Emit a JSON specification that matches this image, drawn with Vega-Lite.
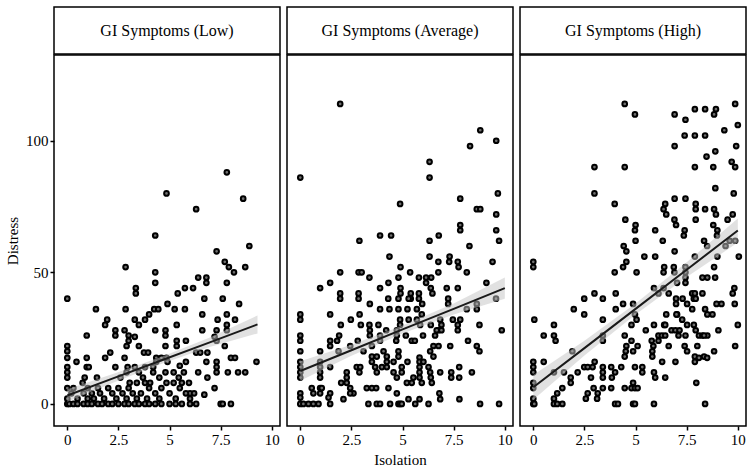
{
"$schema":"https://vega.github.io/schema/vega-lite/v6.json",
"padding":{"left":4,"top":6,"right":2,"bottom":5},
"background":"white",
"config":{
 "view":{"stroke":"black","strokeWidth":1.5},
 "font":"Liberation Serif",
 "axis":{"labelFont":"Liberation Serif","labelFontSize":15,"labelColor":"black","titleFont":"Liberation Serif","titleFontSize":15,"titleFontWeight":"normal","titleColor":"black","tickColor":"black","tickWidth":1.5,"tickSize":4,"domain":false,"grid":false,"labelPadding":2,"titlePadding":5,"labelFlush":false}
},
"datasets":{
"heads":[{"p":"L","label":"GI Symptoms (Low)"},{"p":"A","label":"GI Symptoms (Average)"},{"p":"H","label":"GI Symptoms (High)"}],
"fit":[
{"p":"L","x":0,"fit":3.2,"lo":0.8,"hi":5.6},{"p":"L","x":2.3,"fit":9.9,"lo":8.2,"hi":11.6},{"p":"L","x":4.65,"fit":16.7,"lo":15.4,"hi":18.0},{"p":"L","x":7,"fit":23.5,"lo":21.7,"hi":25.3},{"p":"L","x":9.3,"fit":30.2,"lo":26.8,"hi":33.6},
{"p":"A","x":0,"fit":12.5,"lo":8.8,"hi":16.2},{"p":"A","x":2.5,"fit":20.4,"lo":18.3,"hi":22.5},{"p":"A","x":5,"fit":28.3,"lo":26.8,"hi":29.8},{"p":"A","x":7.5,"fit":36.1,"lo":34.0,"hi":38.2},{"p":"A","x":10,"fit":44.0,"lo":40.0,"hi":48.0},
{"p":"H","x":0,"fit":6.3,"lo":1.6,"hi":11.0},{"p":"H","x":2.5,"fit":21.2,"lo":18.4,"hi":24.0},{"p":"H","x":5,"fit":36.1,"lo":34.0,"hi":38.2},{"p":"H","x":7.5,"fit":51.0,"lo":48.2,"hi":53.8},{"p":"H","x":10,"fit":65.9,"lo":61.3,"hi":70.5}
],
"L":[
{"x":7.8,"y":88},{"x":4.85,"y":80},{"x":8.6,"y":78},{"x":6.3,"y":74},{"x":4.3,"y":64},{"x":7.3,"y":58},{"x":8.9,"y":60},{"x":7.7,"y":54},{"x":7.9,"y":52},{"x":8.15,"y":50},{"x":8.7,"y":52},{"x":2.85,"y":52},{"x":4.3,"y":50},{"x":4.3,"y":46},{"x":6.4,"y":48},{"x":6.8,"y":48},{"x":6.8,"y":46},{"x":7.8,"y":46},{"x":3.35,"y":44},{"x":3.35,"y":42},{"x":5.75,"y":44},{"x":6.15,"y":44},{"x":5.4,"y":42},
{"x":0,"y":40},{"x":1.4,"y":36},{"x":2.85,"y":36},{"x":4.25,"y":36},{"x":4.45,"y":36},{"x":4.9,"y":38},{"x":5.25,"y":36},{"x":5.75,"y":36},{"x":6.7,"y":40},{"x":7.6,"y":40},{"x":8.4,"y":38},{"x":6.6,"y":34},{"x":7.35,"y":32},{"x":7.8,"y":34},{"x":8.2,"y":32},{"x":7.8,"y":30},{"x":7.8,"y":28},{"x":7.3,"y":28},{"x":6.6,"y":28},{"x":5.35,"y":30},{"x":4.8,"y":28},{"x":4.8,"y":26},{"x":4.3,"y":28},{"x":3.8,"y":32},{"x":4.0,"y":34},{"x":3.3,"y":32},{"x":3.5,"y":30},{"x":2.8,"y":28},{"x":3.0,"y":26},{"x":2.35,"y":28},{"x":2.35,"y":26},{"x":1.95,"y":32},{"x":1.85,"y":30},{"x":0.95,"y":26},
{"x":0,"y":22},{"x":0,"y":20},{"x":0,"y":17.5},{"x":0.45,"y":16},{"x":0.95,"y":17.5},{"x":1.85,"y":17.5},{"x":2.1,"y":19.5},{"x":2.8,"y":17.5},{"x":3.3,"y":25.5},{"x":3.0,"y":24},{"x":2.9,"y":22},{"x":3.5,"y":22},{"x":3.75,"y":19.5},{"x":3.95,"y":19.5},{"x":4.8,"y":22},{"x":5.35,"y":22},{"x":5.35,"y":24},{"x":5.8,"y":24},{"x":6.3,"y":19.5},{"x":6.5,"y":19.5},{"x":6.85,"y":19.5},{"x":7.2,"y":25.5},{"x":7.7,"y":22},{"x":7.3,"y":24},{"x":8.0,"y":17.5},{"x":8.2,"y":17.5},{"x":9.25,"y":16},{"x":4.35,"y":17.5},{"x":4.6,"y":17.5},{"x":4.85,"y":17.5},{"x":4.35,"y":16},{"x":4.9,"y":16},{"x":5.5,"y":14.5},{"x":5.8,"y":16},{"x":6.8,"y":16},{"x":7.3,"y":16},{"x":7.3,"y":14},{"x":7.3,"y":12},{"x":7.85,"y":12},{"x":8.35,"y":12},{"x":8.7,"y":12},{"x":6.4,"y":12},{"x":6.85,"y":10},{"x":2.35,"y":14},{"x":0.95,"y":14},{"x":1.05,"y":14},{"x":0,"y":14},{"x":0,"y":12},{"x":0,"y":10},{"x":2.95,"y":14},{"x":3.3,"y":14},{"x":3.8,"y":14},{"x":4.2,"y":14},{"x":3.5,"y":12},{"x":3.7,"y":10},{"x":4.2,"y":12},{"x":4.5,"y":10},{"x":4.8,"y":12},{"x":5.2,"y":12},{"x":5.45,"y":10},{"x":5.7,"y":12},{"x":1.45,"y":10},{"x":0.85,"y":10},{"x":0.75,"y":8},{"x":2.6,"y":10},{"x":2.9,"y":12},{"x":3.05,"y":8},{"x":3.4,"y":8},{"x":3.8,"y":8},{"x":4.05,"y":8},{"x":4.85,"y":8},{"x":5.2,"y":8},{"x":5.6,"y":8},{"x":5.95,"y":8},{"x":6.7,"y":3.5},{"x":7.2,"y":6},
{"x":0,"y":6},{"x":0.3,"y":6},{"x":1.0,"y":6},{"x":1.5,"y":6},{"x":2.0,"y":6},{"x":2.5,"y":6},{"x":3.0,"y":6},{"x":4.0,"y":6},{"x":4.6,"y":6},{"x":5.5,"y":6},{"x":6.0,"y":4},
{"x":0.2,"y":4},{"x":0.8,"y":4},{"x":1.2,"y":4},{"x":1.6,"y":4},{"x":2.2,"y":4},{"x":2.7,"y":4},{"x":3.2,"y":4},{"x":3.6,"y":4},{"x":4.3,"y":4},{"x":5.0,"y":4},{"x":5.8,"y":4},{"x":6.2,"y":4},
{"x":0,"y":2},{"x":0.5,"y":2},{"x":1.0,"y":2},{"x":1.3,"y":2},{"x":1.8,"y":2},{"x":2.4,"y":2},{"x":2.9,"y":2},{"x":3.4,"y":2},{"x":3.9,"y":2},{"x":4.5,"y":2},{"x":5.3,"y":2},{"x":6.0,"y":2},
{"x":0,"y":0},{"x":0.1,"y":0},{"x":0.3,"y":0},{"x":0.5,"y":0},{"x":0.8,"y":0},{"x":1.0,"y":0},{"x":1.2,"y":0},{"x":1.5,"y":0},{"x":1.7,"y":0},{"x":2.0,"y":0},{"x":2.2,"y":0},{"x":2.5,"y":0},{"x":2.8,"y":0},{"x":3.0,"y":0},{"x":3.3,"y":0},{"x":3.5,"y":0},{"x":3.8,"y":0},{"x":4.0,"y":0},{"x":4.3,"y":0},{"x":4.6,"y":0},{"x":5.0,"y":0},{"x":5.3,"y":0},{"x":5.6,"y":0},{"x":6.0,"y":0},{"x":6.3,"y":0},{"x":7.5,"y":0},{"x":7.6,"y":0},{"x":8.0,"y":0}
],
"A":[
{"x":1.95,"y":114},{"x":8.8,"y":104},{"x":9.58,"y":100},{"x":8.3,"y":98},{"x":6.32,"y":92},{"x":6.32,"y":86},{"x":0,"y":86},{"x":9.66,"y":80},{"x":7.82,"y":78},{"x":4.88,"y":76},{"x":8.63,"y":74},{"x":8.8,"y":74},{"x":9.58,"y":72},{"x":7.82,"y":68},{"x":7.82,"y":66},{"x":9.58,"y":66},{"x":9.72,"y":62},{"x":8.27,"y":60},{"x":2.89,"y":62},{"x":3.9,"y":64},{"x":4.44,"y":64},{"x":6.32,"y":62},{"x":6.77,"y":64},{"x":4.36,"y":56},{"x":6.32,"y":56},{"x":7.3,"y":56},
{"x":6.75,"y":54},{"x":7.28,"y":54},{"x":7.7,"y":54},{"x":7.74,"y":52},{"x":9.4,"y":54},
{"x":1.95,"y":50},{"x":2.85,"y":50},{"x":3.0,"y":50},{"x":4.9,"y":52},{"x":5.37,"y":50},{"x":5.8,"y":48},{"x":6.15,"y":48},{"x":6.4,"y":48},{"x":6.15,"y":46},{"x":6.75,"y":50},{"x":8.14,"y":50},{"x":1.46,"y":46},{"x":3.38,"y":48},{"x":4.31,"y":46},{"x":4.8,"y":48},{"x":0.97,"y":44},{"x":1.95,"y":42},{"x":1.95,"y":40},{"x":2.85,"y":42},{"x":2.85,"y":40},{"x":3.9,"y":44},{"x":4.9,"y":44},{"x":4.9,"y":42},{"x":5.4,"y":42},{"x":5.4,"y":40},{"x":5.8,"y":42},{"x":5.8,"y":40},{"x":6.38,"y":44},{"x":6.46,"y":42},{"x":7.16,"y":44},{"x":7.7,"y":44},{"x":9.1,"y":46},{"x":9.57,"y":40},
{"x":3.4,"y":38},{"x":3.9,"y":36},{"x":4.3,"y":40},{"x":4.8,"y":40},{"x":5.3,"y":40},{"x":4.36,"y":36},{"x":4.8,"y":36},{"x":5.24,"y":36},{"x":5.7,"y":36},{"x":5.96,"y":38},{"x":7.23,"y":40},{"x":7.23,"y":38},{"x":8.63,"y":38},{"x":8.63,"y":36},{"x":8.14,"y":36},
{"x":0,"y":34},{"x":0,"y":32},{"x":1.46,"y":34},{"x":2.47,"y":32},{"x":2.9,"y":34},{"x":3.38,"y":30},{"x":3.82,"y":30},{"x":4.88,"y":32},{"x":4.88,"y":30},{"x":5.3,"y":32},{"x":5.7,"y":32},{"x":5.94,"y":34},{"x":5.86,"y":30},{"x":6.38,"y":30},{"x":6.84,"y":32},{"x":6.9,"y":30},{"x":6.75,"y":28},{"x":6.9,"y":28},{"x":7.46,"y":32},{"x":7.82,"y":32},{"x":7.7,"y":30},{"x":7.7,"y":28},{"x":8.76,"y":30},{"x":9.85,"y":28},{"x":1.98,"y":30},{"x":2.96,"y":30},
{"x":0,"y":26},{"x":0,"y":24},{"x":1.46,"y":24},{"x":1.46,"y":22},{"x":1.9,"y":26},{"x":1.8,"y":24},{"x":2.81,"y":24},{"x":3.4,"y":28},{"x":3.4,"y":26},{"x":3.5,"y":22},{"x":3.9,"y":26},{"x":3.9,"y":24},{"x":4.2,"y":28},{"x":4.69,"y":24},{"x":4.72,"y":26},{"x":5.16,"y":26},{"x":4.72,"y":28},{"x":5.45,"y":24},{"x":5.6,"y":24},{"x":6.0,"y":26},{"x":6.67,"y":28},{"x":6.59,"y":26},{"x":7.33,"y":22},{"x":8.2,"y":24},{"x":8.63,"y":22},{"x":8.76,"y":20},
{"x":0,"y":20},{"x":0.97,"y":20},{"x":1.87,"y":20},{"x":2.44,"y":22},{"x":3.09,"y":20},{"x":3.5,"y":18},{"x":3.74,"y":18},{"x":4.07,"y":20},{"x":4.23,"y":18},{"x":4.8,"y":20},{"x":4.8,"y":18},{"x":6.35,"y":20},{"x":6.51,"y":22},{"x":6.76,"y":22},{"x":6.51,"y":18},
{"x":0,"y":16},{"x":0,"y":14},{"x":0,"y":12},{"x":0,"y":10},{"x":0.97,"y":16},{"x":0.97,"y":14},{"x":0.97,"y":12},{"x":0.97,"y":10},{"x":1.46,"y":14},{"x":2.27,"y":12},{"x":2.27,"y":10},{"x":2.27,"y":8},{"x":2.44,"y":6},{"x":2.6,"y":4},{"x":2.76,"y":14},{"x":2.93,"y":14},{"x":2.89,"y":12},{"x":3.5,"y":16},{"x":3.66,"y":14},{"x":3.74,"y":12},{"x":3.99,"y":14},{"x":4.23,"y":16},{"x":4.23,"y":14},{"x":4.56,"y":16},{"x":4.56,"y":12},{"x":4.96,"y":14},{"x":4.96,"y":12},{"x":5.24,"y":16},{"x":5.83,"y":17.6},{"x":5.83,"y":16},{"x":5.83,"y":14},{"x":5.83,"y":12},{"x":5.83,"y":10},{"x":5.94,"y":8},{"x":6.02,"y":16},{"x":6.27,"y":14},{"x":6.35,"y":12},{"x":6.38,"y":10},{"x":6.43,"y":8},{"x":6.84,"y":12},{"x":7.38,"y":12},{"x":7.38,"y":10},{"x":7.77,"y":14},{"x":7.77,"y":10},{"x":8.39,"y":12},{"x":4.72,"y":10},{"x":5.21,"y":8},{"x":5.45,"y":8},{"x":5.53,"y":10},{"x":2.0,"y":8},{"x":3.25,"y":6},{"x":3.5,"y":6},{"x":3.71,"y":6},{"x":4.31,"y":6},
{"x":0,"y":4},{"x":0,"y":2.4},{"x":0.56,"y":6},{"x":0.64,"y":4},{"x":0.97,"y":6},{"x":0.97,"y":4},{"x":1.05,"y":6},{"x":1.46,"y":4},{"x":1.38,"y":2.4},{"x":2.11,"y":1.8},{"x":2.44,"y":4},{"x":4.72,"y":4},{"x":5.29,"y":1.8},{"x":5.83,"y":1.8},{"x":6.8,"y":4},{"x":6.84,"y":1.8},{"x":7.78,"y":1.8},
{"x":0,"y":0},{"x":0.15,"y":0},{"x":0.4,"y":0},{"x":0.64,"y":0},{"x":0.89,"y":0},{"x":1.46,"y":0},{"x":3.33,"y":0},{"x":3.74,"y":0},{"x":3.9,"y":0},{"x":4.39,"y":0},{"x":4.8,"y":0},{"x":4.88,"y":0},{"x":4.96,"y":0},{"x":5.62,"y":0},{"x":6.27,"y":0},{"x":8.79,"y":0},{"x":9.72,"y":0}
],
"H":[
{"x":4.47,"y":114},{"x":4.97,"y":110},{"x":6.91,"y":110},{"x":7.44,"y":108},{"x":7.9,"y":112},{"x":8.4,"y":112},{"x":8.93,"y":112},{"x":8.84,"y":110},{"x":9.87,"y":114},{"x":10.0,"y":106},{"x":9.34,"y":104},{"x":7.4,"y":102},{"x":7.9,"y":102},{"x":8.4,"y":102},{"x":6.91,"y":98},{"x":9.92,"y":98},{"x":8.9,"y":96},{"x":8.47,"y":94},{"x":9.7,"y":92},{"x":2.99,"y":90},{"x":4.47,"y":90},{"x":7.9,"y":90},{"x":8.8,"y":90},{"x":9.87,"y":90},{"x":8.9,"y":82},{"x":9.8,"y":80},{"x":2.99,"y":80},{"x":3.98,"y":76},{"x":6.91,"y":78},{"x":7.44,"y":78},{"x":6.45,"y":76},{"x":6.37,"y":74},{"x":6.5,"y":72},{"x":7.94,"y":76},{"x":7.94,"y":74},{"x":8.4,"y":74},{"x":8.84,"y":74},{"x":8.93,"y":72},{"x":9.75,"y":72},{"x":9.5,"y":70},{"x":4.5,"y":70},{"x":6.9,"y":70},{"x":6.98,"y":68},{"x":7.94,"y":70},{"x":5.0,"y":68},{"x":4.97,"y":66},{"x":5.96,"y":66},{"x":7.4,"y":66},{"x":7.36,"y":64},{"x":8.8,"y":68},{"x":9.0,"y":66},{"x":8.98,"y":64},{"x":5.0,"y":62},{"x":6.33,"y":62},{"x":8.35,"y":62},{"x":8.5,"y":60},{"x":9.4,"y":60},{"x":9.6,"y":62},{"x":9.87,"y":62},{"x":4.42,"y":60},{"x":4.55,"y":58},{"x":6.91,"y":58},{"x":5.43,"y":56},{"x":5.96,"y":56},{"x":7.9,"y":56},{"x":9.0,"y":56},{"x":10.05,"y":56},
{"x":0,"y":54},{"x":0,"y":52},{"x":4.55,"y":54},{"x":4.39,"y":52},{"x":3.98,"y":50},{"x":5.05,"y":50},{"x":6.4,"y":52},{"x":6.37,"y":50},{"x":6.87,"y":52},{"x":6.9,"y":50},{"x":7.44,"y":52},{"x":7.44,"y":50},{"x":7.44,"y":48},{"x":7.44,"y":46},{"x":7.03,"y":46},{"x":8.84,"y":52},{"x":8.27,"y":48},{"x":8.51,"y":48},{"x":8.89,"y":48},{"x":9.83,"y":44},{"x":9.75,"y":42},{"x":5.9,"y":44},{"x":6.12,"y":42},{"x":6.62,"y":42},{"x":6.37,"y":44},{"x":2.99,"y":42},{"x":2.49,"y":40},{"x":3.4,"y":40},{"x":4.03,"y":42},{"x":4.39,"y":38},{"x":4.03,"y":36},{"x":4.88,"y":38},{"x":4.97,"y":34},{"x":5.05,"y":32},{"x":4.8,"y":30},{"x":6.98,"y":40},{"x":6.98,"y":38},{"x":7.3,"y":40},{"x":7.52,"y":38},{"x":7.77,"y":42},{"x":7.9,"y":42},{"x":7.85,"y":40},{"x":7.94,"y":40},{"x":7.77,"y":36},{"x":8.27,"y":42},{"x":8.4,"y":36},{"x":8.51,"y":34},{"x":8.76,"y":34},{"x":8.96,"y":38},{"x":7.03,"y":34},{"x":7.28,"y":32},{"x":7.52,"y":30},{"x":7.85,"y":30},{"x":7.94,"y":28},{"x":8.1,"y":26},{"x":8.51,"y":26},{"x":8.27,"y":26},{"x":1.98,"y":36},{"x":2.49,"y":34},{"x":3.4,"y":32},{"x":0.05,"y":32},{"x":0.51,"y":26},{"x":1.01,"y":30},{"x":1.01,"y":26},{"x":1.09,"y":24},{"x":3.4,"y":26},{"x":3.4,"y":24},{"x":4.47,"y":26},{"x":4.8,"y":24},{"x":4.55,"y":22},{"x":4.52,"y":20},{"x":4.47,"y":18},{"x":5.1,"y":22},{"x":4.88,"y":20},{"x":5.5,"y":28},{"x":5.9,"y":30},{"x":6.4,"y":30},{"x":6.45,"y":30},{"x":6.12,"y":26},{"x":6.29,"y":26},{"x":6.45,"y":26},{"x":5.79,"y":24},{"x":5.87,"y":22},{"x":5.82,"y":20},{"x":5.82,"y":18},{"x":6.12,"y":24},{"x":6.62,"y":22},{"x":6.95,"y":16},{"x":6.3,"y":16},{"x":6.76,"y":28},{"x":6.95,"y":28},{"x":7.15,"y":28},{"x":7.0,"y":34},{"x":7.1,"y":26},{"x":7.44,"y":26},{"x":7.4,"y":22},{"x":7.52,"y":20},{"x":8.02,"y":22},{"x":7.9,"y":18},{"x":8.35,"y":18},{"x":7.9,"y":16},{"x":8.84,"y":20},{"x":9.87,"y":22},{"x":10.0,"y":30},{"x":7.97,"y":8},{"x":8.4,"y":0},{"x":4.3,"y":14},{"x":4.97,"y":14},{"x":5.33,"y":14},{"x":5.33,"y":12},{"x":4.88,"y":8},{"x":4.8,"y":6},{"x":4.47,"y":6},{"x":4.97,"y":6},{"x":5.1,"y":6},{"x":5.9,"y":12},{"x":5.96,"y":10},{"x":6.45,"y":10},{"x":3.84,"y":10},{"x":4.0,"y":12},{"x":3.81,"y":14},{"x":3.4,"y":14},{"x":3.4,"y":12},{"x":3.4,"y":10},{"x":3.81,"y":6},{"x":3.4,"y":6},{"x":3.0,"y":16},{"x":2.9,"y":14},{"x":2.49,"y":14},{"x":2.66,"y":14},{"x":2.17,"y":12},{"x":2.82,"y":10},{"x":2.95,"y":6},{"x":3.15,"y":4},{"x":3.12,"y":2},{"x":2.66,"y":4},{"x":2.57,"y":2},{"x":1.5,"y":12},{"x":1.83,"y":10},{"x":1.83,"y":8},{"x":1.42,"y":6},{"x":1.17,"y":4},{"x":1.01,"y":2},{"x":1.01,"y":0},{"x":1.17,"y":0},{"x":1.42,"y":0},{"x":0,"y":16},{"x":0,"y":14},{"x":0,"y":12},{"x":0.51,"y":16},{"x":0,"y":8},{"x":0,"y":6},{"x":0,"y":2},{"x":0,"y":0},{"x":0.05,"y":0},{"x":4.0,"y":0},{"x":4.14,"y":0},{"x":4.88,"y":0},{"x":4.97,"y":0},{"x":5.9,"y":0},{"x":1.01,"y":12},{"x":1.91,"y":20},{"x":6.5,"y":34},{"x":9.05,"y":28},{"x":9.2,"y":38},{"x":8.5,"y":17.5},{"x":8.1,"y":17.5},{"x":8.35,"y":26},{"x":9.85,"y":38}
]
},
"spacing":5,
"hconcat":[
{"spacing":-1.5,"vconcat":[
 {"width":226,"height":47,"data":{"name":"heads"},"transform":[{"filter":"datum.p==='L'"}],"mark":{"type":"text","font":"Liberation Serif","fontSize":16,"color":"black"},"encoding":{"text":{"field":"label","type":"nominal"},"x":{"field":"label","type":"nominal","axis":null},"y":{"field":"label","type":"nominal","axis":null}}},
 {"width":226,"height":371,"layer":[
  {"data":{"name":"L"},"mark":{"type":"point","shape":"circle","filled":true,"fill":"#707070","stroke":"black","strokeWidth":2,"size":22,"opacity":1},
   "encoding":{"x":{"field":"x","type":"quantitative","scale":{"domain":[-0.65,10.4],"nice":false,"zero":false},"axis":{"values":[0,2.5,5,7.5,10],"labelExpr":"'' + datum.value","title":null}},
   "y":{"field":"y","type":"quantitative","scale":{"domain":[-8.4,132.6],"nice":false,"zero":false},"axis":{"values":[0,50,100],"title":"Distress"}}}},
  {"data":{"name":"fit"},"transform":[{"filter":"datum.p==='L'"}],"mark":{"type":"area","color":"#c4c4c4","opacity":0.5},
   "encoding":{"x":{"field":"x","type":"quantitative","axis":{"values":[0,2.5,5,7.5,10],"labelExpr":"'' + datum.value","title":null}},"y":{"field":"lo","type":"quantitative","axis":{"values":[0,50,100],"title":"Distress"}},"y2":{"field":"hi"}}},
  {"data":{"name":"fit"},"transform":[{"filter":"datum.p==='L'"}],"mark":{"type":"line","color":"#1a1a1a","strokeWidth":2},
   "encoding":{"x":{"field":"x","type":"quantitative","axis":{"values":[0,2.5,5,7.5,10],"labelExpr":"'' + datum.value","title":null}},"y":{"field":"fit","type":"quantitative","axis":{"values":[0,50,100],"title":"Distress"}}}}
 ]}
]},
{"spacing":-1.5,"vconcat":[
 {"width":226,"height":47,"data":{"name":"heads"},"transform":[{"filter":"datum.p==='A'"}],"mark":{"type":"text","font":"Liberation Serif","fontSize":16,"color":"black"},"encoding":{"text":{"field":"label","type":"nominal"},"x":{"field":"label","type":"nominal","axis":null},"y":{"field":"label","type":"nominal","axis":null}}},
 {"width":226,"height":371,"layer":[
  {"data":{"name":"A"},"mark":{"type":"point","shape":"circle","filled":true,"fill":"#707070","stroke":"black","strokeWidth":2,"size":22,"opacity":1},
   "encoding":{"x":{"field":"x","type":"quantitative","scale":{"domain":[-0.65,10.4],"nice":false,"zero":false},"axis":{"values":[0,2.5,5,7.5,10],"labelExpr":"'' + datum.value","title":"Isolation"}},
   "y":{"field":"y","type":"quantitative","scale":{"domain":[-8.4,132.6],"nice":false,"zero":false},"axis":null}}},
  {"data":{"name":"fit"},"transform":[{"filter":"datum.p==='A'"}],"mark":{"type":"area","color":"#c4c4c4","opacity":0.5},
   "encoding":{"x":{"field":"x","type":"quantitative","axis":{"values":[0,2.5,5,7.5,10],"labelExpr":"'' + datum.value","title":"Isolation"}},"y":{"field":"lo","type":"quantitative","axis":null},"y2":{"field":"hi"}}},
  {"data":{"name":"fit"},"transform":[{"filter":"datum.p==='A'"}],"mark":{"type":"line","color":"#1a1a1a","strokeWidth":2},
   "encoding":{"x":{"field":"x","type":"quantitative","axis":{"values":[0,2.5,5,7.5,10],"labelExpr":"'' + datum.value","title":"Isolation"}},"y":{"field":"fit","type":"quantitative","axis":null}}}
 ]}
]},
{"spacing":-1.5,"vconcat":[
 {"width":226,"height":47,"data":{"name":"heads"},"transform":[{"filter":"datum.p==='H'"}],"mark":{"type":"text","font":"Liberation Serif","fontSize":16,"color":"black"},"encoding":{"text":{"field":"label","type":"nominal"},"x":{"field":"label","type":"nominal","axis":null},"y":{"field":"label","type":"nominal","axis":null}}},
 {"width":226,"height":371,"layer":[
  {"data":{"name":"H"},"mark":{"type":"point","shape":"circle","filled":true,"fill":"#707070","stroke":"black","strokeWidth":2,"size":22,"opacity":1},
   "encoding":{"x":{"field":"x","type":"quantitative","scale":{"domain":[-0.65,10.4],"nice":false,"zero":false},"axis":{"values":[0,2.5,5,7.5,10],"labelExpr":"'' + datum.value","title":null}},
   "y":{"field":"y","type":"quantitative","scale":{"domain":[-8.4,132.6],"nice":false,"zero":false},"axis":null}}},
  {"data":{"name":"fit"},"transform":[{"filter":"datum.p==='H'"}],"mark":{"type":"area","color":"#c4c4c4","opacity":0.5},
   "encoding":{"x":{"field":"x","type":"quantitative","axis":{"values":[0,2.5,5,7.5,10],"labelExpr":"'' + datum.value","title":null}},"y":{"field":"lo","type":"quantitative","axis":null},"y2":{"field":"hi"}}},
  {"data":{"name":"fit"},"transform":[{"filter":"datum.p==='H'"}],"mark":{"type":"line","color":"#1a1a1a","strokeWidth":2},
   "encoding":{"x":{"field":"x","type":"quantitative","axis":{"values":[0,2.5,5,7.5,10],"labelExpr":"'' + datum.value","title":null}},"y":{"field":"fit","type":"quantitative","axis":null}}}
 ]}
]}
]
}
